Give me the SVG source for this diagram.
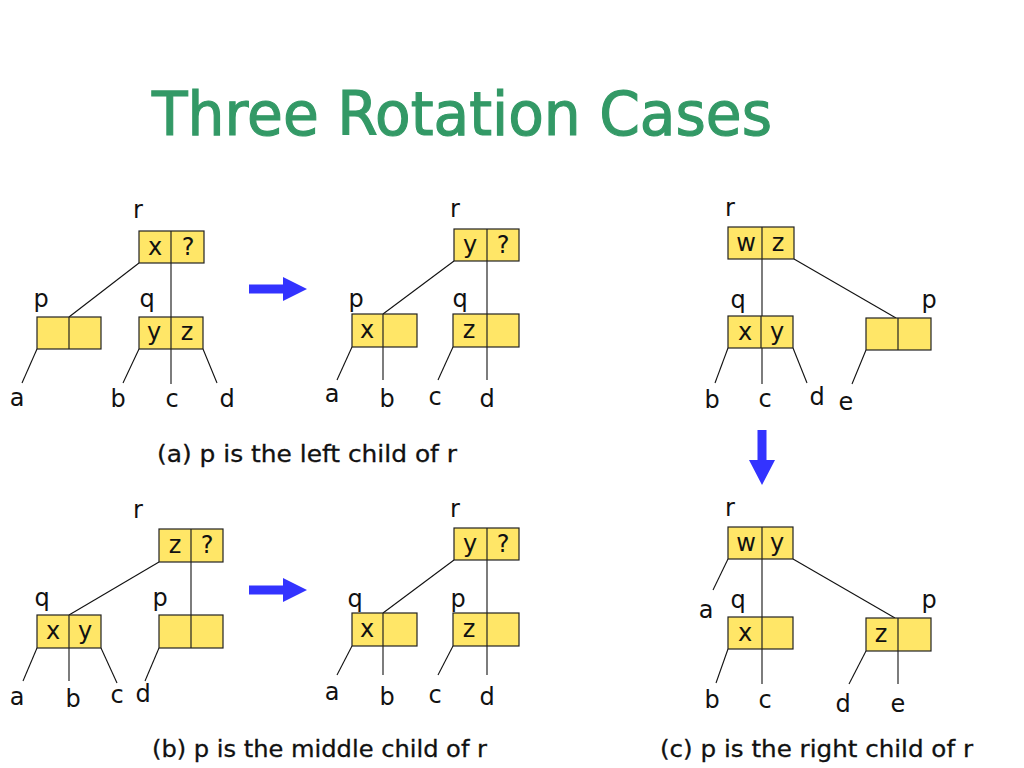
<svg xmlns="http://www.w3.org/2000/svg" width="1024" height="768" viewBox="0 0 1024 768">
<defs>
<style>
.box rect{fill:#FFE667;stroke:#222;stroke-width:1.2}
.box line{stroke:#222;stroke-width:1.2}
.conn line{stroke:#111;stroke-width:1.1}
text{font-family:"DejaVu Sans","Liberation Sans",sans-serif;fill:#111}
.k{font-size:24px;text-anchor:middle}
.lb{font-size:24px;text-anchor:middle}
.cap{font-size:23px;stroke:#111;stroke-width:0.3}
.title{font-size:60px;fill:#339966;stroke:#339966;stroke-width:1.2}
.arrow{fill:#3333FF}
</style>
</defs>
<rect width="1024" height="768" fill="#fff"/>
<text class="title" x="152" y="135" textLength="620" lengthAdjust="spacingAndGlyphs">Three Rotation Cases</text>

<!-- connectors -->
<g id="connectors" class="conn">
<!-- case a before -->
<line x1="139" y1="263" x2="69" y2="317"/>
<line x1="171" y1="263" x2="171" y2="384"/>
<line x1="37" y1="349" x2="22" y2="383"/>
<line x1="139" y1="349" x2="123" y2="383"/>
<line x1="203" y1="349" x2="217" y2="383"/>
<!-- case a after -->
<line x1="454" y1="261" x2="383" y2="314"/>
<line x1="487" y1="261" x2="487" y2="380"/>
<line x1="352" y1="347" x2="337" y2="380"/>
<line x1="383" y1="347" x2="383" y2="380"/>
<line x1="453" y1="347" x2="438" y2="380"/>
<!-- case c before -->
<line x1="762" y1="259" x2="762" y2="384"/>
<line x1="794" y1="259" x2="896" y2="318"/>
<line x1="728" y1="348" x2="715" y2="383"/>
<line x1="793" y1="348" x2="807" y2="383"/>
<line x1="866" y1="350" x2="852" y2="384"/>
<!-- case b before -->
<line x1="159" y1="562" x2="69" y2="615"/>
<line x1="191" y1="562" x2="191" y2="615"/>
<line x1="37" y1="648" x2="23" y2="681"/>
<line x1="69" y1="648" x2="69" y2="681"/>
<line x1="101" y1="648" x2="117" y2="683"/>
<line x1="159" y1="648" x2="145" y2="681"/>
<!-- case b after -->
<line x1="454" y1="560" x2="383" y2="613"/>
<line x1="487" y1="560" x2="487" y2="675"/>
<line x1="352" y1="646" x2="337" y2="675"/>
<line x1="383" y1="646" x2="383" y2="675"/>
<line x1="453" y1="646" x2="438" y2="675"/>
<!-- case c after -->
<line x1="728" y1="559" x2="713" y2="590"/>
<line x1="762" y1="559" x2="762" y2="684"/>
<line x1="793" y1="559" x2="895" y2="618"/>
<line x1="728" y1="649" x2="716" y2="683"/>
<line x1="866" y1="651" x2="849" y2="684"/>
<line x1="898" y1="651" x2="898" y2="684"/>
</g>

<!-- case a before -->
<g id="a1-r" class="box"><rect x="139" y="231" width="65" height="32"/><line x1="171" y1="231" x2="171" y2="263"/><text class="k" x="155" y="255">x</text><text class="k" x="188" y="255">?</text></g>
<g id="a1-p" class="box"><rect x="37" y="317" width="64" height="32"/><line x1="69" y1="317" x2="69" y2="349"/></g>
<g id="a1-q" class="box"><rect x="139" y="317" width="64" height="32"/><line x1="171" y1="317" x2="171" y2="349"/><text class="k" x="154" y="340">y</text><text class="k" x="187" y="340">z</text></g>
<g id="a1-labels">
<text class="lb" x="138" y="218">r</text><text class="lb" x="41" y="307">p</text><text class="lb" x="147" y="307">q</text>
<text class="lb" x="17" y="406">a</text><text class="lb" x="118" y="407">b</text><text class="lb" x="172" y="407">c</text><text class="lb" x="227" y="407">d</text>
</g>
<polygon id="arrow-a" class="arrow" points="249,284.5 283,284.5 283,277 307,289 283,301 283,293.5 249,293.5"/>

<!-- case a after -->
<g id="a2-r" class="box"><rect x="454" y="229" width="65" height="32"/><line x1="487" y1="229" x2="487" y2="261"/><text class="k" x="470" y="253">y</text><text class="k" x="503" y="253">?</text></g>
<g id="a2-p" class="box"><rect x="352" y="314" width="65" height="33"/><line x1="383" y1="314" x2="383" y2="347"/><text class="k" x="367" y="338">x</text></g>
<g id="a2-q" class="box"><rect x="453" y="314" width="66" height="33"/><line x1="487" y1="314" x2="487" y2="347"/><text class="k" x="469" y="338">z</text></g>
<g id="a2-labels">
<text class="lb" x="455" y="217">r</text><text class="lb" x="356" y="307">p</text><text class="lb" x="460" y="307">q</text>
<text class="lb" x="332" y="402">a</text><text class="lb" x="387" y="407">b</text><text class="lb" x="435" y="405">c</text><text class="lb" x="487" y="407">d</text>
</g>
<text class="cap" x="157" y="462" textLength="300" lengthAdjust="spacingAndGlyphs">(a) p is the left child of r</text>

<!-- case c before -->
<g id="c1-r" class="box"><rect x="728" y="227" width="66" height="32"/><line x1="762" y1="227" x2="762" y2="259"/><text class="k" x="746" y="251">w</text><text class="k" x="778" y="251">z</text></g>
<g id="c1-q" class="box"><rect x="728" y="316" width="65" height="32"/><line x1="761" y1="316" x2="761" y2="348"/><text class="k" x="745" y="340">x</text><text class="k" x="777" y="340">y</text></g>
<g id="c1-p" class="box"><rect x="866" y="318" width="65" height="32"/><line x1="898" y1="318" x2="898" y2="350"/></g>
<g id="c1-labels">
<text class="lb" x="730" y="216">r</text><text class="lb" x="738" y="308">q</text><text class="lb" x="929" y="308">p</text>
<text class="lb" x="712" y="408">b</text><text class="lb" x="765" y="407">c</text><text class="lb" x="817" y="405">d</text><text class="lb" x="846" y="410">e</text>
</g>
<polygon id="arrow-c" class="arrow" points="757.5,430 766.5,430 766.5,460 775,460 762,485 749,460 757.5,460"/>

<!-- case b before -->
<g id="b1-r" class="box"><rect x="159" y="529" width="64" height="33"/><line x1="191" y1="529" x2="191" y2="562"/><text class="k" x="175" y="553">z</text><text class="k" x="207" y="553">?</text></g>
<g id="b1-q" class="box"><rect x="37" y="615" width="64" height="33"/><line x1="69" y1="615" x2="69" y2="648"/><text class="k" x="53" y="639">x</text><text class="k" x="85" y="639">y</text></g>
<g id="b1-p" class="box"><rect x="159" y="615" width="64" height="33"/><line x1="191" y1="615" x2="191" y2="648"/></g>
<g id="b1-labels">
<text class="lb" x="138" y="518">r</text><text class="lb" x="42" y="606">q</text><text class="lb" x="160" y="606">p</text>
<text class="lb" x="17" y="705">a</text><text class="lb" x="73" y="707">b</text><text class="lb" x="117" y="703">c</text><text class="lb" x="143" y="702">d</text>
</g>
<polygon id="arrow-b" class="arrow" points="249,585.5 283,585.5 283,578 307,590 283,602 283,594.5 249,594.5"/>

<!-- case b after -->
<g id="b2-r" class="box"><rect x="454" y="528" width="65" height="32"/><line x1="487" y1="528" x2="487" y2="560"/><text class="k" x="470" y="552">y</text><text class="k" x="503" y="552">?</text></g>
<g id="b2-q" class="box"><rect x="352" y="613" width="65" height="33"/><line x1="383" y1="613" x2="383" y2="646"/><text class="k" x="367" y="637">x</text></g>
<g id="b2-p" class="box"><rect x="453" y="613" width="66" height="33"/><line x1="487" y1="613" x2="487" y2="646"/><text class="k" x="469" y="637">z</text></g>
<g id="b2-labels">
<text class="lb" x="455" y="517">r</text><text class="lb" x="355" y="607">q</text><text class="lb" x="458" y="607">p</text>
<text class="lb" x="332" y="700">a</text><text class="lb" x="387" y="705">b</text><text class="lb" x="435" y="703">c</text><text class="lb" x="487" y="705">d</text>
</g>
<text class="cap" x="152" y="757" textLength="335" lengthAdjust="spacingAndGlyphs">(b) p is the middle child of r</text>

<!-- case c after -->
<g id="c2-r" class="box"><rect x="728" y="527" width="65" height="32"/><line x1="762" y1="527" x2="762" y2="559"/><text class="k" x="746" y="551">w</text><text class="k" x="777" y="551">y</text></g>
<g id="c2-q" class="box"><rect x="728" y="617" width="65" height="32"/><line x1="762" y1="617" x2="762" y2="649"/><text class="k" x="745" y="641">x</text></g>
<g id="c2-p" class="box"><rect x="866" y="618" width="65" height="33"/><line x1="898" y1="618" x2="898" y2="651"/><text class="k" x="881" y="642">z</text></g>
<g id="c2-labels">
<text class="lb" x="730" y="516">r</text><text class="lb" x="706" y="618">a</text><text class="lb" x="738" y="608">q</text><text class="lb" x="929" y="608">p</text>
<text class="lb" x="712" y="708">b</text><text class="lb" x="765" y="708">c</text><text class="lb" x="843" y="712">d</text><text class="lb" x="898" y="712">e</text>
</g>
<text class="cap" x="660" y="757" textLength="313" lengthAdjust="spacingAndGlyphs">(c) p is the right child of r</text>
</svg>
